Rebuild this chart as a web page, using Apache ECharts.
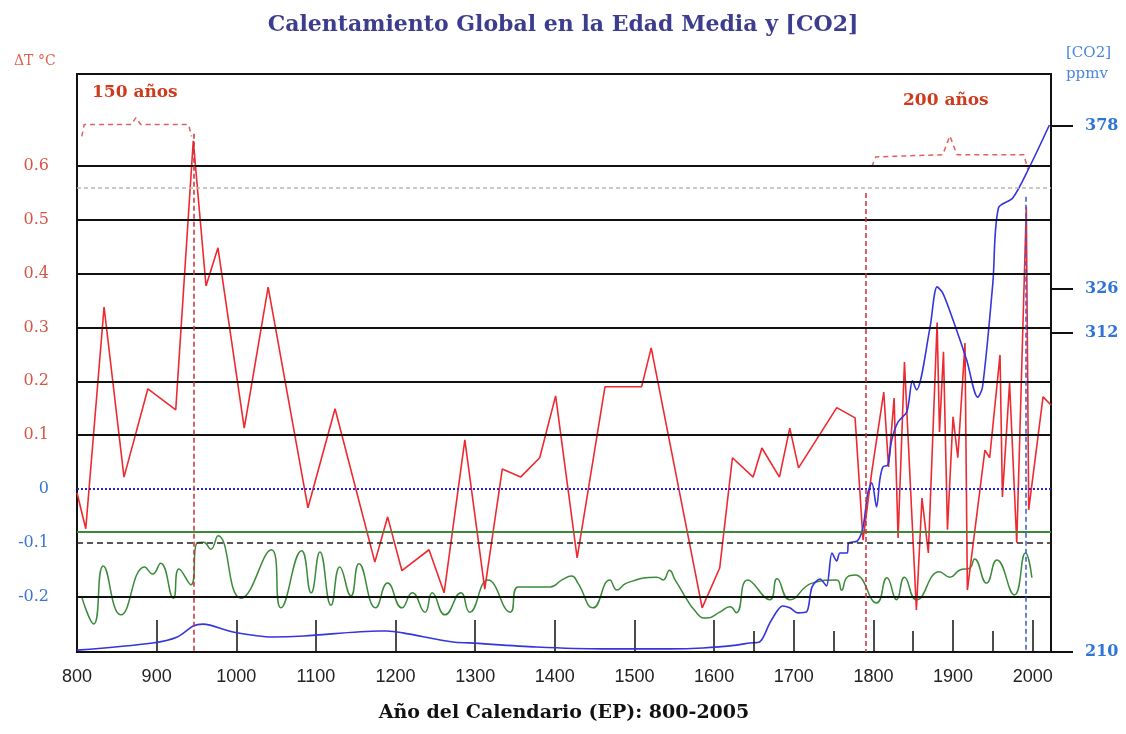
<!DOCTYPE html>
<html lang="es">

<head>
    <meta charset="UTF-8">
    <title>Calentamiento Global en la Edad Media y [CO2]</title>
    <style>
        body { margin: 0; background: #fff; }
        #ChartTemp { width: 1126px; height: 734px; }
    </style>
</head>

<body onload="setup()">
    <div id="ChartTemp"></div>

    <script src="https://cdn.jsdelivr.net/npm/echarts/dist/echarts.min.js"></script>
    <script>
        // anomalia de temperatura (rojo), eje izquierdo
        var tempYears = [800, 811, 834, 859, 889, 924, 946, 962, 977, 1010, 1040, 1090, 1124, 1174, 1190, 1208, 1242, 1261, 1287, 1312,
            1334, 1357, 1381, 1401, 1428, 1463, 1509, 1521, 1585, 1607, 1623, 1649, 1660, 1682, 1695, 1706, 1754, 1777, 1787, 1798,
            1813, 1819, 1826, 1831, 1839, 1854, 1861, 1869, 1880, 1883, 1888, 1893, 1900, 1906, 1915, 1918, 1940, 1946, 1959, 1962,
            1971, 1980, 1992, 1995, 2013, 2023]
        var tempValues = [-0.007, -0.074, 0.338, 0.022, 0.186, 0.147, 0.647, 0.377, 0.448, 0.113, 0.375, -0.035, 0.149, -0.136, -0.052, -0.152, -0.113, -0.193, 0.091, -0.186,
            0.037, 0.022, 0.058, 0.173, -0.128, 0.190, 0.190, 0.262, -0.221, -0.147, 0.058, 0.022, 0.076, 0.022, 0.113, 0.039, 0.151, 0.132, -0.095, 0.032,
            0.180, 0.041, 0.169, -0.091, 0.236, -0.225, -0.017, -0.119, 0.309, 0.106, 0.255, -0.076, 0.134, 0.058, 0.271, -0.188, 0.072, 0.058, 0.249, -0.015,
            0.197, -0.100, 0.524, -0.039, 0.171, 0.156]

        // curva verde suavizada
        var greenYears = [806, 821, 833, 855, 885, 895, 905, 921, 928, 943, 951, 959, 968, 977, 1006, 1044, 1056, 1082, 1094, 1105,
            1119, 1130, 1144, 1154, 1175, 1190, 1208, 1221, 1237, 1246, 1262, 1282, 1293, 1316, 1344, 1354, 1394, 1409, 1421, 1429,
            1448, 1469, 1478, 1490, 1528, 1536, 1544, 1551, 1580, 1591, 1607, 1620, 1628, 1642, 1670, 1679, 1695, 1723, 1754, 1760,
            1767, 1777, 1804, 1817, 1829, 1839, 1854, 1883, 1896, 1908, 1921, 1927, 1942, 1955, 1977, 1991, 1999]
        var greenValues = [-0.201, -0.251, -0.143, -0.234, -0.145, -0.158, -0.138, -0.203, -0.149, -0.178, -0.100, -0.099, -0.112, -0.087, -0.203, -0.113, -0.221, -0.115, -0.193, -0.117,
            -0.216, -0.145, -0.199, -0.139, -0.221, -0.175, -0.221, -0.193, -0.229, -0.193, -0.234, -0.193, -0.229, -0.169, -0.229, -0.182, -0.182, -0.169, -0.162, -0.175,
            -0.221, -0.169, -0.188, -0.175, -0.164, -0.169, -0.151, -0.169, -0.234, -0.240, -0.229, -0.219, -0.230, -0.169, -0.206, -0.167, -0.206, -0.175, -0.169, -0.188,
            -0.164, -0.160, -0.212, -0.165, -0.206, -0.164, -0.206, -0.154, -0.164, -0.151, -0.147, -0.130, -0.175, -0.132, -0.197, -0.119, -0.165]

        // [CO2] ppmv (azul), eje derecho
        var co2Years = [800, 895, 926, 946, 958, 996, 1046, 1085, 1180, 1189, 1209, 1272, 1293, 1377, 1460, 1544, 1586, 1628, 1645, 1657,
            1670, 1680, 1686, 1695, 1705, 1716, 1723, 1733, 1741, 1748, 1754, 1758, 1767, 1769, 1780, 1787, 1793, 1798, 1804, 1808,
            1812, 1818, 1823, 1831, 1842, 1849, 1854, 1871, 1880, 1887, 1900, 1917, 1931, 1937, 1950, 1957, 1975, 1996, 2021]
        var co2Values = [210.6, 212.9, 214.8, 218.3, 218.9, 216.4, 214.8, 215.1, 216.7, 216.7, 216.1, 213.2, 212.9, 211.6, 211.0, 211.0, 211.3, 212.2, 212.9, 213.2,
            219.3, 223.4, 224.7, 224.1, 222.5, 222.8, 230.8, 233.3, 231.1, 241.6, 239.1, 241.6, 241.6, 244.8, 245.5, 249.9, 260.8, 264.0, 256.3, 264.9,
            269.1, 269.7, 277.7, 283.5, 286.7, 296.6, 293.7, 313.5, 326.6, 324.7, 316.0, 303.3, 291.4, 294.6, 327.9, 351.8, 355.0, 364.9, 378.3]

        // llaves "150 años" y "200 años"
        var brace150Years = [806, 809, 868, 874, 880, 940, 944]
        var brace150Values = [0.655, 0.677, 0.677, 0.690, 0.677, 0.677, 0.655]
        var brace200Years = [1798, 1803, 1887, 1896, 1905, 1989, 1994]
        var brace200Values = [0.599, 0.617, 0.621, 0.656, 0.621, 0.621, 0.593]

        // ejes
        var xTickYears = [800, 900, 1000, 1100, 1200, 1300, 1400, 1500, 1600, 1700, 1800, 1900, 2000]
        var xMinorYears = [1650, 1750, 1850, 1950]
        var tempTicks = [-0.2, -0.1, 0, 0.1, 0.2, 0.3, 0.4, 0.5, 0.6]
        var tempGrid = [-0.2, 0.1, 0.2, 0.3, 0.4, 0.5, 0.6]
        var co2Ticks = [210, 312, 326, 378]

        // lineas de referencia
        var zeroLevel = 0
        var greenLevel = -0.076
        var dashLevel = -0.095
        var grayLevel = 0.557
        var markYears = [946, 1790, 1991]
        var markTops = [0.66, 0.55, 0.543]

        var TEMP_MIN = -0.303
        var TEMP_MAX = 0.771

        var ChartTemp

        function zip(xs, ys) {
            let out = []
            for (var i = 0; i < xs.length; i++) {
                out.push([xs[i], ys[i]])
            }
            return out
        }

        function refLines() {
            let lines = []
            tempGrid.forEach(v => {
                lines.push({ yAxis: v, lineStyle: { color: '#111', width: 2, type: 'solid' } })
            })
            lines.push({ yAxis: grayLevel, lineStyle: { color: '#b8b8b8', width: 1.5, type: [4, 3] } })
            lines.push({ yAxis: zeroLevel, lineStyle: { color: '#2424d0', width: 2, type: [2, 2] } })
            lines.push({ yAxis: greenLevel, lineStyle: { color: '#3a8a3a', width: 2, type: 'solid' } })
            lines.push({ yAxis: dashLevel, lineStyle: { color: '#222', width: 1.5, type: [6, 4] } })

            // lineas verticales punteadas
            let vColors = ['#c8303a', '#c8303a', '#3a5ad0']
            markYears.forEach((yr, i) => {
                lines.push([
                    { coord: [yr, markTops[i]], lineStyle: { color: vColors[i], width: 1.5, type: [5, 3] } },
                    { coord: [yr, TEMP_MIN] }
                ])
            })
            // marcas cortas del eje x
            xMinorYears.forEach(yr => {
                lines.push([
                    { coord: [yr, TEMP_MIN], lineStyle: { color: '#111', width: 1.5, type: 'solid' } },
                    { coord: [yr, TEMP_MIN + 0.039] }
                ])
            })
            return lines
        }

        function setup() {
            ChartTemp = echarts.init(document.getElementById('ChartTemp'))
            ChartTemp.setOption(chartOption(), true)
        }

        function chartOption() {
            return {
                animation: false,
                backgroundColor: '#fff',
                title: {
                    text: 'Calentamiento Global en la Edad Media y [CO2]',
                    left: 'center',
                    top: 9,
                    textStyle: { fontFamily: 'DejaVu Serif', fontWeight: 'bold', fontSize: 22, color: '#3d3d8f' }
                },
                grid: {
                    left: 77, right: 75, top: 74, bottom: 82,
                    show: true, borderColor: '#111', borderWidth: 2
                },
                xAxis: {
                    type: 'value',
                    min: 800,
                    max: 2023,
                    name: 'Año del Calendario (EP): 800-2005',
                    nameLocation: 'middle',
                    nameGap: 52,
                    nameTextStyle: { fontFamily: 'DejaVu Serif', fontWeight: 'bold', fontSize: 19, color: '#111' },
                    axisLine: { show: true, onZero: false, lineStyle: { color: '#111', width: 2 } },
                    axisTick: { show: true, inside: true, length: 32, customValues: xTickYears, lineStyle: { color: '#111', width: 1.5 } },
                    axisLabel: {
                        customValues: xTickYears,
                        margin: 16,
                        fontFamily: 'Liberation Sans',
                        fontSize: 18,
                        color: '#222',
                        formatter: function (v) { return String(v) }
                    },
                    splitLine: { show: false }
                },
                yAxis: [{
                    type: 'value',
                    min: TEMP_MIN,
                    max: TEMP_MAX,
                    axisLine: { show: false },
                    axisTick: { show: false },
                    splitLine: { show: false },
                    axisLabel: {
                        customValues: tempTicks,
                        margin: 28,
                        fontFamily: 'DejaVu Serif',
                        fontSize: 16,
                        formatter: function (v) { return v === 0 ? '0' : v.toFixed(1) },
                        color: function (v) { return Number(v) > 0 ? '#d65545' : '#3a74d0' }
                    }
                }, {
                    type: 'value',
                    position: 'right',
                    min: 210,
                    max: 394.6,
                    axisLine: { show: false },
                    axisTick: { show: true, inside: false, length: 22, customValues: co2Ticks, lineStyle: { color: '#111', width: 2 } },
                    splitLine: { show: false },
                    axisLabel: {
                        customValues: co2Ticks,
                        margin: 34,
                        fontFamily: 'DejaVu Serif',
                        fontWeight: 'bold',
                        fontSize: 16,
                        color: '#2f74d8'
                    }
                }],
                graphic: [
                    { type: 'text', left: 14, top: 54, style: { text: 'ΔT °C', fill: '#e0604a', font: '14px "DejaVu Serif"' } },
                    { type: 'text', left: 1066, top: 46, style: { text: '[CO2]', fill: '#4a84e0', font: '15px "DejaVu Serif"' } },
                    { type: 'text', left: 1066, top: 67, style: { text: 'ppmv', fill: '#4a84e0', font: '15px "DejaVu Serif"' } },
                    { type: 'text', left: 92, top: 84, style: { text: '150 años', fill: '#d03a1c', font: 'bold 17px "DejaVu Serif"' } },
                    { type: 'text', left: 903, top: 92, style: { text: '200 años', fill: '#d03a1c', font: 'bold 17px "DejaVu Serif"' } }
                ],
                series: [{
                    name: 'ref',
                    type: 'line',
                    data: [],
                    z: 1,
                    silent: true,
                    markLine: { silent: true, symbol: ['none', 'none'], label: { show: false }, data: refLines() }
                }, {
                    name: 'llave150',
                    type: 'line',
                    data: zip(brace150Years, brace150Values),
                    showSymbol: false,
                    silent: true,
                    lineStyle: { color: '#e06060', width: 1.5, type: [5, 4] }
                }, {
                    name: 'llave200',
                    type: 'line',
                    data: zip(brace200Years, brace200Values),
                    showSymbol: false,
                    silent: true,
                    lineStyle: { color: '#e06060', width: 1.5, type: [5, 4] }
                }, {
                    name: 'verde',
                    type: 'line',
                    smooth: 0.5,
                    data: zip(greenYears, greenValues),
                    showSymbol: false,
                    lineStyle: { color: '#3a8a3a', width: 1.5 }
                }, {
                    name: 'ΔT',
                    type: 'line',
                    data: zip(tempYears, tempValues),
                    showSymbol: false,
                    lineStyle: { color: '#ee2a30', width: 1.6 }
                }, {
                    name: 'CO2',
                    type: 'line',
                    yAxisIndex: 1,
                    smooth: 0.3,
                    data: zip(co2Years, co2Values),
                    showSymbol: false,
                    lineStyle: { color: '#3535dd', width: 1.6 }
                }]
            }
        }
    </script>
</body>

</html>
